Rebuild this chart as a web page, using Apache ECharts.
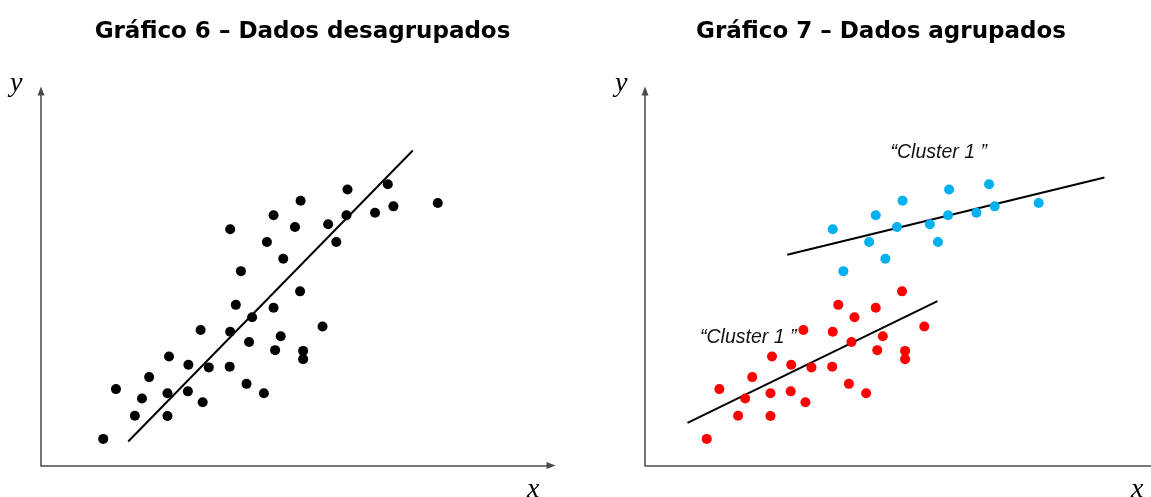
<!DOCTYPE html>
<html>
<head>
<meta charset="utf-8">
<script src="https://cdn.jsdelivr.net/npm/echarts@6/dist/echarts.min.js"></script>
<style>html,body{margin:0;padding:0;background:#fff}#c{width:1151px;height:497px}</style>
</head>
<body>
<div id="c"></div>
<script>
// Data (arbitrary units, axes 0..100)
var groupA = [ // lower group (red in Gráfico 7)
  [12.2,7.1],[14.7,20.4],[18.4,13.3],[19.8,17.9],[21.2,23.6],[24.8,19.3],[24.8,13.2],
  [25.1,29.1],[28.9,26.9],[28.8,19.8],[31.7,16.9],[31.3,36.2],[32.9,26.2],[37.0,26.4],
  [37.1,35.7],[38.2,42.9],[40.3,21.8],[40.8,33.0],[41.4,39.6],[43.7,19.3],[45.6,42.1],
  [47.0,34.5],[45.9,30.8],[50.8,46.5],[55.2,37.1],[51.4,30.6],[51.4,28.4]
];
var groupB = [ // upper group (blue in Gráfico 7)
  [37.1,63.1],[39.2,51.9],[44.3,59.7],[45.6,66.8],[47.5,55.2],[49.8,63.7],[50.9,70.7],
  [56.3,64.4],[57.9,59.7],[59.9,66.8],[60.1,73.7],[65.5,67.5],[68.0,75.1],[69.1,69.2],
  [77.8,70.1]
];
var trendAll = [[17.1,6.4],[72.9,84.1]];
var trendA = [[8.4,11.4],[57.8,43.9]];
var trendB = [[28.1,56.3],[90.8,76.9]];
var titles = ['Gráfico 6 – Dados desagrupados', 'Gráfico 7 – Dados agrupados'];
var clusterLabel = '\u201CCluster 1 \u201D';

var axisColor = '#4a4a4a';
function ax(i,arrow){return {gridIndex:i,type:'value',min:0,max:100,
  axisLine:{show:true,lineStyle:{color:axisColor,width:1.5},symbol:['none',arrow?'triangle':'none'],symbolSize:[7,9]},
  axisTick:{show:false},axisLabel:{show:false},splitLine:{show:false}};}
function lineS(i,d){return {type:'line',xAxisIndex:i,yAxisIndex:i,data:d,symbol:'none',
  lineStyle:{color:'#000',width:2},silent:true,z:3};}
function scat(i,d,c){return {type:'scatter',xAxisIndex:i,yAxisIndex:i,data:d,symbolSize:10,
  itemStyle:{color:c,opacity:1},z:4};}

function txt(x,y,s,style){return {type:'text',x:x,y:y,style:Object.assign({text:s,align:'left',verticalAlign:'middle',textAlign:'left',textVerticalAlign:'middle'},style)};}
var serifItalic = {fontFamily:'Liberation Serif',fontStyle:'italic',fontSize:28,fill:'#000'};
var titleStyle = {fontFamily:'DejaVu Sans',fontWeight:'bold',fontSize:23,fill:'#000',align:'center',textAlign:'center'};
var labelStyle = {fontFamily:'Liberation Sans',fontStyle:'italic',fontSize:19.5,fill:'#111'};
var chart = echarts.init(document.getElementById('c'));
chart.setOption({
  animation:false,
  grid:[
    {left:41,top:91,width:510,height:374.5},
    {left:645,top:91,width:510,height:374.5}
  ],
  xAxis:[ax(0,true),ax(1,false)],
  yAxis:[ax(0,true),ax(1,true)],
  series:[
    scat(0,groupA,'#000'),scat(0,groupB,'#000'),lineS(0,trendAll),
    scat(1,groupA,'#FF0000'),scat(1,groupB,'#00B0F0'),lineS(1,trendA),lineS(1,trendB)
  ],
  graphic:[
    txt(302.5,32.5,titles[0],titleStyle),
    txt(881,32.5,titles[1],titleStyle),
    txt(10,84,'y',serifItalic),
    txt(615,84,'y',serifItalic),
    txt(527,490,'x',serifItalic),
    txt(1131,490,'x',serifItalic),
    txt(700,338,clusterLabel,labelStyle),
    txt(890.5,153,clusterLabel,labelStyle)
  ]
});
</script>
</body>
</html>
